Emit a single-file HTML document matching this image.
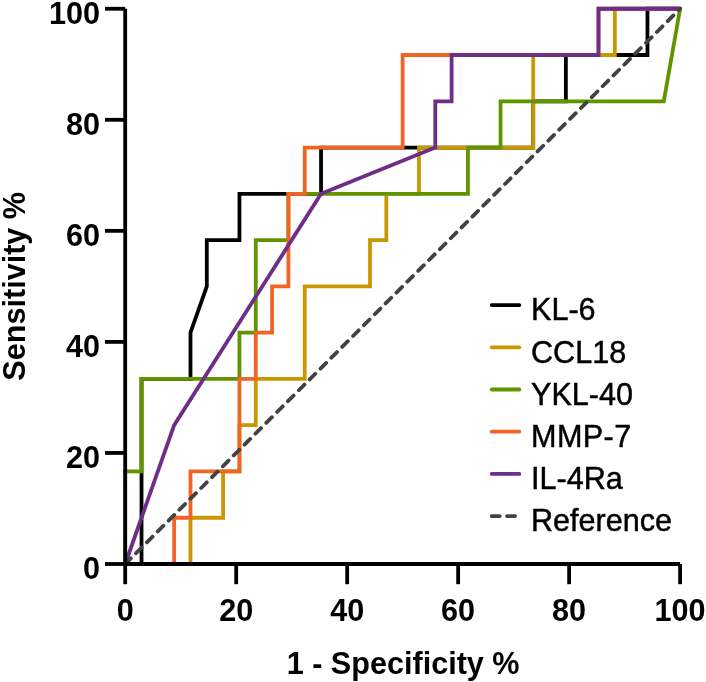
<!DOCTYPE html>
<html lang="en"><head><meta charset="utf-8"><title>ROC curves</title>
<style>html,body{margin:0;padding:0;background:#fff;}svg{display:block;will-change:transform;}text{font-family:"Liberation Sans",Arial,sans-serif;fill:#000;font-kerning:none;}.b{font-weight:bold;font-size:30.6px;}.r{font-size:30.6px;stroke:#000;stroke-width:0.45px;}.c{fill:none;stroke-width:3.8;stroke-linejoin:miter;stroke-linecap:round;}.ax{fill:none;stroke:#000;stroke-width:3.8;stroke-linecap:butt;}</style></head><body>
<svg width="706" height="682" viewBox="0 0 706 682">
<rect width="706" height="682" fill="#fff"/>
<path class="c" stroke="#000000" d="M125.20 564.00 L141.52 564.00 L141.52 378.92 L190.48 378.92 L190.48 332.65 L206.80 286.38 L206.80 240.10 L239.44 240.10 L239.44 193.83 L321.05 193.83 L321.05 147.56 L533.21 147.56 L533.21 101.29 L565.86 101.29 L565.86 55.02 L647.46 55.02 L647.46 8.75 L680.10 8.75"/>
<path class="c" stroke="#C99700" d="M125.20 564.00 L190.48 564.00 L190.48 517.73 L223.12 517.73 L223.12 471.46 L239.44 471.46 L239.44 425.19 L255.76 425.19 L255.76 378.92 L304.73 378.92 L304.73 286.38 L370.01 286.38 L370.01 240.10 L386.33 240.10 L386.33 193.83 L418.97 193.83 L418.97 147.56 L533.21 147.56 L533.21 55.02 L614.82 55.02 L614.82 8.75 L680.10 8.75"/>
<path class="c" stroke="#619500" d="M125.20 564.00 L125.20 471.46 L141.52 471.46 L141.52 378.92 L239.44 378.92 L239.44 332.65 L255.76 332.65 L255.76 240.10 L288.41 240.10 L288.41 193.83 L467.93 193.83 L467.93 147.56 L500.57 147.56 L500.57 101.29 L663.78 101.29 L680.10 8.75"/>
<path class="c" stroke="#F16425" d="M125.20 564.00 L174.16 564.00 L174.16 517.73 L190.48 517.73 L190.48 471.46 L239.44 471.46 L239.44 378.92 L255.76 378.92 L255.76 332.65 L272.09 332.65 L272.09 286.38 L288.41 286.38 L288.41 193.83 L304.73 193.83 L304.73 147.56 L402.65 147.56 L402.65 55.02 L598.50 55.02 L598.50 8.75 L680.10 8.75"/>
<path class="c" stroke="#6E2D88" d="M125.20 564.00 L174.16 425.19 L321.05 193.83 L435.29 147.56 L435.29 101.29 L451.61 101.29 L451.61 55.02 L598.50 55.02 L598.50 8.75 L680.10 8.75"/>
<path class="c" stroke="#414244" stroke-dasharray="8 7.35" d="M125.20 564.00 L680.10 8.75"/>
<path class="ax" d="M125.20 8.75 V564.00"/>
<path class="ax" d="M125.20 564.00 H680.10"/>
<path class="ax" d="M105.00 564.00 H125.20"/>
<path class="ax" d="M125.20 564.00 V584.20"/>
<path class="ax" d="M105.00 452.95 H125.20"/>
<path class="ax" d="M236.18 564.00 V584.20"/>
<path class="ax" d="M105.00 341.90 H125.20"/>
<path class="ax" d="M347.16 564.00 V584.20"/>
<path class="ax" d="M105.00 230.85 H125.20"/>
<path class="ax" d="M458.14 564.00 V584.20"/>
<path class="ax" d="M105.00 119.80 H125.20"/>
<path class="ax" d="M569.12 564.00 V584.20"/>
<path class="ax" d="M105.00 8.75 H125.20"/>
<path class="ax" d="M680.10 564.00 V584.20"/>
<text class="b" text-anchor="end" x="100.10" y="579.30">0</text>
<text class="b" text-anchor="middle" x="125.20" y="620.70">0</text>
<text class="b" text-anchor="end" x="100.10" y="468.25">20</text>
<text class="b" text-anchor="middle" x="236.18" y="620.70">20</text>
<text class="b" text-anchor="end" x="100.10" y="357.20">40</text>
<text class="b" text-anchor="middle" x="347.16" y="620.70">40</text>
<text class="b" text-anchor="end" x="100.10" y="246.15">60</text>
<text class="b" text-anchor="middle" x="458.14" y="620.70">60</text>
<text class="b" text-anchor="end" x="100.10" y="135.10">80</text>
<text class="b" text-anchor="middle" x="569.12" y="620.70">80</text>
<text class="b" text-anchor="end" x="100.10" y="24.05">100</text>
<text class="b" text-anchor="middle" x="680.10" y="620.70">100</text>
<text class="b" text-anchor="middle" x="403.10" y="673.70">1 - Specificity %</text>
<text class="b" text-anchor="middle" transform="translate(25.0 286.3) rotate(-90)">Sensitivity %</text>
<path class="c" stroke="#000000" d="M491.70 305.10 H519.30"/>
<text class="r" transform="translate(531.00 320.40) scale(1 1.055)">KL-6</text>
<path class="c" stroke="#C99700" d="M491.70 347.30 H519.30"/>
<text class="r" transform="translate(531.00 362.60) scale(1 1.055)">CCL18</text>
<path class="c" stroke="#619500" d="M491.70 389.50 H519.30"/>
<text class="r" transform="translate(531.00 404.80) scale(1 1.055)">YKL-40</text>
<path class="c" stroke="#F16425" d="M491.70 431.70 H519.30"/>
<text class="r" letter-spacing="0.4" transform="translate(531.00 447.00) scale(1 1.055)">MMP-7</text>
<path class="c" stroke="#6E2D88" d="M491.70 473.90 H519.30"/>
<text class="r" transform="translate(531.00 489.20) scale(1 1.055)">IL-4Ra</text>
<path class="c" stroke="#414244" stroke-dasharray="8 7.35" d="M491.70 516.10 H519.30"/>
<text class="r" transform="translate(531.00 531.40) scale(1 1.055)">Reference</text>
</svg></body></html>
